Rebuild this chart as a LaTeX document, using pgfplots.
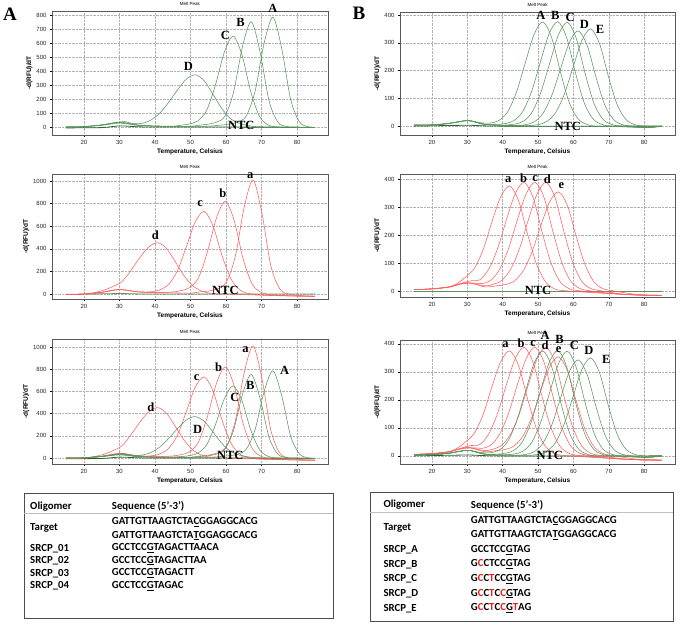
\documentclass[border=0pt]{standalone}
\usepackage{pgfplots}
\pgfplotsset{compat=1.18}
\usepackage{pgfplotstable}
\usepackage{fontspec}
\setmainfont{Liberation Serif}
\newfontfamily\arial{Liberation Sans}
\newfontfamily\calib{Carlito}

\definecolor{gcurve}{RGB}{88,150,90}
\definecolor{rcurve}{RGB}{255,95,95}
\definecolor{ntc}{RGB}{40,100,45}
\definecolor{tred}{RGB}{235,30,30}

\pgfplotsset{
 melt/.style={scale only axis, anchor=south west, width=276pt,
  xmin=11, xmax=88.7, xtick={20,30,...,80}, grid=major,
  major grid style={densely dotted, gray!60},
  axis line style={gray!70!black, line width=0.6pt},
  tick style={black, line width=0.4pt}, tick align=outside, tick pos=left,
  minor x tick num=4, minor tick length=1.2pt, major tick length=2pt,
  ticklabel style={font=\arial\fontsize{6}{7}\selectfont, text=black!85},
  /pgf/number format/assume math mode=true, /pgf/number format/1000 sep={},
  xlabel={Temperature, Celsius}, ylabel={-d(RFU)/dT},
  label style={font=\arial\bfseries\fontsize{6.5}{7}\selectfont},
  xlabel style={yshift=3pt}, ylabel style={yshift=-3pt},
  title={Melt Peak}, title style={font=\arial\fontsize{4.5}{5}\selectfont, yshift=-4pt},
  clip=false},
 gcur/.style={gcurve, line width=0.55pt, smooth},
 rcur/.style={rcurve, line width=0.55pt, smooth},
 ncur/.style={ntc, line width=0.8pt, smooth}
}
\tikzset{lab/.style={font=\bfseries\fontsize{12.5}{13}\selectfont, inner sep=0pt}}

% ---------- Panel A (green) ----------
\pgfplotstableread{
x y
15 0
20 3
25 12
30 28
35 12
40 6
45 5
50 5
55 6
58.2 13
60.7 20
63.2 34
65.7 79
68.2 259
70.7 597
73.2 785
75.7 557
78.2 196
80.7 35
83.2 2
85 -3
}\gA
\pgfplotstableread{
x y
15 0
20 3
25 14
30 32
35 14
40 6
45 5
50 5
52.1 12
54.6 19
57.1 33
59.6 75
62.1 248
64.6 572
67.1 752
69.6 534
72.1 188
74.6 34
77.1 4
80 0
85 -2
}\gB
\pgfplotstableread{
x y
15 0
20 3
25 15
30 35
35 15
40 8
45 6
47 12
49.5 21
52 43
54.5 117
57 299
59.5 533
62 650
64.5 514
67 247
69.5 72
72 13
74.5 0
80 -3
85 -3
}\gC
\pgfplotstableread{
x y
15 0
20 3
25 15
28.8 30
31.3 39
33.8 25
36.3 26
38.8 49
41.3 98
43.8 175
46.3 264
48.8 342
51.3 373
53.8 332
56.3 235
58.8 132
61.3 59
63.8 26
66.3 10
68.8 3
75 0
85 -3
}\gD
\pgfplotstableread{
x y
15 -6
25 -4
30 8
35 2
40 0
60 0
85 -4
}\gN
% ---------- Panel a (red) ----------
\pgfplotstableread{
x y
15 -5
20 0
25 15
30 40
35 20
40 12
45 10
50 8
52.6 18
55.1 27
57.6 46
60.1 106
62.6 333
65.1 767
67.6 1009
70.1 716
72.6 252
75.1 45
77.6 0
80 -12
85 -20
}\ra
\pgfplotstableread{
x y
15 -5
20 0
25 15
30 40
35 20
40 12
44.8 18
47.3 30
49.8 57
52.3 148
54.8 378
57.3 673
59.8 821
62.3 649
64.8 312
67.3 90
69.8 16
72.3 -5
77 -15
85 -20
}\rb
\pgfplotstableread{
x y
15 -5
20 0
25 15
30 40
35 20
38.8 19
41.3 36
43.8 85
46.3 205
48.8 417
51.3 636
53.8 731
56.3 607
58.8 347
61.3 139
63.8 37
66.3 5
70 -8
77 -15
85 -20
}\rc
\pgfplotstableread{
x y
15 -5
18.2 -3
20.7 2
23.2 14
25.7 35
28.2 67
30.7 110
33.2 208
35.7 321
38.2 416
40.7 454
43.2 405
45.7 286
48.2 160
50.7 71
53.2 25
55.7 7
58.2 1
65 -5
75 -15
85 -20
}\rd
\pgfplotstableread{
x y
15 -3
30 4
40 0
85 0
}\rN
% ---------- Panel B (green) ----------
\pgfplotstableread{
x y
15 5
20 5
25 10
30 20
33.9 12
36.4 11
38.9 20
41.4 51
43.9 122
46.4 228
48.9 331
51.4 375
53.9 317
56.4 191
58.9 82
61.4 25
63.9 6
66.4 0
75 0
80 -5
85 0
}\hA
\pgfplotstableread{
x y
15 3
20 4
25 10
30 20
33 12
35 6
38.1 6
40.6 9
43.1 19
45.6 51
48.1 122
50.6 228
53.1 332
55.6 376
58.1 318
60.6 191
63.1 82
65.6 25
68.1 6
70.6 0
80 -5
85 0
}\hB
\pgfplotstableread{
x y
15 3
20 4
25 10
30 20
33 12
35 6
38 3
40.8 4
43.3 7
45.8 17
48.3 50
50.8 122
53.3 227
55.8 330
58.3 374
60.8 316
63.3 190
65.8 82
68.3 25
70.8 6
73.3 0
80 -5
85 0
}\hC
\pgfplotstableread{
x y
15 3
20 4
25 10
30 20
33 12
35 6
40 3
43.9 2
46.4 5
48.9 15
51.4 46
53.9 111
56.4 208
58.9 303
61.4 343
63.9 290
66.4 175
68.9 75
71.4 23
73.9 5
76.4 0
80 -5
85 0
}\hD
\pgfplotstableread{
x y
15 3
20 4
25 10
30 20
33 12
35 6
40 3
45 2
47.4 2
49.9 5
52.4 16
54.9 47
57.4 114
59.9 212
62.4 309
64.9 350
67.4 296
69.9 178
72.4 76
74.9 23
77.4 5
79.9 0
82 -5
85 0
}\hE
\pgfplotstableread{
x y
15 0
30 3
40 0
85 0
}\hN
% ---------- Panel b (red) ----------
\pgfplotstableread{
x y
15 5
20 8
24.5 14
27 26
29.5 50
32 81
34.5 148
37 248
39.5 338
42 375
44.5 323
47 206
49.5 99
52 35
54.5 9
57 2
65 -5
75 -12
85 -15
}\sa
\pgfplotstableread{
x y
15 5
20 8
25 15
28.6 29
31.1 37
33.6 41
36.1 79
38.6 153
41.1 256
43.6 349
46.1 388
48.6 334
51.1 213
53.6 103
56.1 36
58.6 10
61.1 2
70 -8
80 -15
85 -15
}\sb
\pgfplotstableread{
x y
15 5
20 8
25 15
28 25
31.7 29
34.2 27
36.7 39
39.2 79
41.7 153
44.2 256
46.7 349
49.2 388
51.7 334
54.2 213
56.7 103
59.2 36
61.7 10
64.2 2
72 -10
80 -15
85 -15
}\sc
\pgfplotstableread{
x y
15 5
20 8
25 15
30 30
34.8 19
37.3 24
39.8 39
42.3 79
44.8 153
47.3 256
49.8 349
52.3 388
54.8 334
57.3 213
59.8 103
62.3 36
64.8 10
67.3 2
75 -12
85 -15
}\sd
\pgfplotstableread{
x y
15 5
20 8
25 15
30 30
35 15
38.3 19
40.8 23
43.3 36
45.8 72
48.3 140
50.8 234
53.3 319
55.8 354
58.3 305
60.8 195
63.3 94
65.8 33
68.3 9
70.8 2
78 -12
85 -15
}\se
\pgfplotstableread{
x y
15 0
85 0
}\sN

\begin{document}
\begin{tikzpicture}
\path[use as bounding box] (0,0) rectangle (685pt,-624pt);

% ===== Top left =====
\begin{axis}[melt, at={(52pt,-135pt)}, height=124pt, ymin=-57, ymax=829, ytick={0,100,...,800}]
\addplot[ncur] table {\gN};
\addplot[gcur] table {\gD};
\addplot[gcur] table {\gC};
\addplot[gcur] table {\gB};
\addplot[gcur] table {\gA};
\node[lab] at (axis cs:73.2,845) {A};
\node[lab] at (axis cs:64.1,746) {B};
\node[lab] at (axis cs:59.8,651) {C};
\node[lab] at (axis cs:49.4,432) {D};
\node[lab] at (axis cs:64.3,10) {NTC};
\end{axis}

% ===== Top right =====
\begin{axis}[melt, at={(400pt,-135pt)}, width=275pt, height=123pt, ymin=-32, ymax=411, ytick={0,100,...,400}]
\addplot[ncur] table {\hN};
\addplot[gcur] table {\hA};
\addplot[gcur] table {\hB};
\addplot[gcur] table {\hC};
\addplot[gcur] table {\hD};
\addplot[gcur] table {\hE};
\node[lab] at (axis cs:50.8,400) {A};
\node[lab] at (axis cs:54.9,400) {B};
\node[lab] at (axis cs:59.1,392) {C};
\node[lab] at (axis cs:63.1,368) {D};
\node[lab] at (axis cs:67.5,348) {E};
\node[lab] at (axis cs:58.4,0) {NTC};
\end{axis}

% ===== Middle left =====
\begin{axis}[melt, at={(52pt,-299pt)}, height=125pt, ymin=-44, ymax=1062, ytick={0,200,...,1000}]
\addplot[ncur, gcurve!80!gray] table {\rN};
\addplot[rcur] table {\rd};
\addplot[rcur] table {\rc};
\addplot[rcur] table {\rb};
\addplot[rcur] table {\ra};
\node[lab] at (axis cs:66.8,1045) {a};
\node[lab] at (axis cs:59.1,893) {b};
\node[lab] at (axis cs:52.7,799) {c};
\node[lab] at (axis cs:40.1,524) {d};
\node[lab] at (axis cs:59.8,30) {NTC};
\end{axis}

% ===== Middle right =====
\begin{axis}[melt, at={(400pt,-297pt)}, width=275pt, height=123pt, ymin=-21, ymax=418, ytick={0,100,...,400}]
\addplot[ncur, gcurve!80!gray] table {\sN};
\addplot[rcur] table {\sa};
\addplot[rcur] table {\sb};
\addplot[rcur] table {\sc};
\addplot[rcur] table {\sd};
\addplot[rcur] table {\se};
\node[lab] at (axis cs:41.6,398) {a};
\node[lab] at (axis cs:45.9,404) {b};
\node[lab] at (axis cs:49.2,400) {c};
\node[lab] at (axis cs:52.6,398) {d};
\node[lab] at (axis cs:56.6,376) {e};
\node[lab] at (axis cs:50,2) {NTC};
\end{axis}

% ===== Bottom left =====
\begin{axis}[melt, at={(52pt,-464pt)}, height=125pt, ymin=-54, ymax=1072, ytick={0,200,...,1000}]
\addplot[ncur] table {\gN};
\addplot[rcur] table {\rd};
\addplot[rcur] table {\rc};
\addplot[rcur] table {\rb};
\addplot[rcur] table {\ra};
\addplot[gcur] table {\gD};
\addplot[gcur] table {\gC};
\addplot[gcur] table {\gB};
\addplot[gcur] table {\gA};
\node[lab] at (axis cs:65.5,976) {a};
\node[lab] at (axis cs:57.9,815) {b};
\node[lab] at (axis cs:51.7,725) {c};
\node[lab] at (axis cs:38.8,457) {d};
\node[lab] at (axis cs:76.5,791) {A};
\node[lab] at (axis cs:66.8,657) {B};
\node[lab] at (axis cs:62.5,543) {C};
\node[lab] at (axis cs:52,260) {D};
\node[lab] at (axis cs:61.2,21) {NTC};
\end{axis}

% ===== Bottom right =====
\begin{axis}[melt, at={(400pt,-464pt)}, width=275pt, height=124pt, ymin=-29, ymax=414, ytick={0,100,...,400}]
\addplot[ncur] table {\hN};
\addplot[rcur] table {\sa};
\addplot[rcur] table {\sb};
\addplot[rcur] table {\sc};
\addplot[rcur] table {\sd};
\addplot[rcur] table {\se};
\addplot[gcur] table {\hA};
\addplot[gcur] table {\hB};
\addplot[gcur] table {\hC};
\addplot[gcur] table {\hD};
\addplot[gcur] table {\hE};
\node[lab] at (axis cs:40.8,396) {a};
\node[lab] at (axis cs:45.2,402) {b};
\node[lab] at (axis cs:48.6,402) {c};
\node[lab] at (axis cs:52.0,396) {d};
\node[lab] at (axis cs:55.8,381) {e};
\node[lab] at (axis cs:52,429) {A};
\node[lab] at (axis cs:56.1,417) {B};
\node[lab] at (axis cs:60.3,396) {C};
\node[lab] at (axis cs:64.4,378) {D};
\node[lab] at (axis cs:69.3,343) {E};
\node[lab] at (axis cs:53.3,2) {NTC};
\end{axis}

% ===== Panel letters =====
\node[font=\bfseries\fontsize{19}{19}\selectfont, inner sep=0pt] at (10pt,-14pt) {A};
\node[font=\bfseries\fontsize{19}{19}\selectfont, inner sep=0pt] at (359pt,-13pt) {B};

% ===== Left table =====
\draw[black!70, line width=0.7pt] (24pt,-493pt) rectangle (333pt,-618pt);
\draw[black!25, line width=0.6pt] (24pt,-513.5pt) -- (333pt,-513.5pt);
\begin{scope}[every node/.style={anchor=west, inner sep=0pt, font=\calib\bfseries\fontsize{10.8}{11}\selectfont}]
\node at (30pt,-506.7pt) {Oligomer};
\node at (111.7pt,-506.7pt) {Sequence (5’-3’)};
\node at (30pt,-528.3pt) {Target};
\node at (111.7pt,-522.3pt) {GATTGTTAAGTCTA\underline{C}GGAGGCACG};
\node at (111.7pt,-535.7pt) {GATTGTTAAGTCTA\underline{T}GGAGGCACG};
\node at (30pt,-548.3pt) {SRCP\_01};
\node at (111.7pt,-548.3pt) {GCCTCC\underline{G}TAGACTTAACA};
\node at (30pt,-560.7pt) {SRCP\_02};
\node at (111.7pt,-560.7pt) {GCCTCC\underline{G}TAGACTTAA};
\node at (30pt,-573.3pt) {SRCP\_03};
\node at (111.7pt,-573.3pt) {GCCTCC\underline{G}TAGACTT};
\node at (30pt,-586pt) {SRCP\_04};
\node at (111.7pt,-586pt) {GCCTCC\underline{G}TAGAC};
\end{scope}

% ===== Right table =====
\draw[black!70, line width=0.7pt] (370pt,-492pt) rectangle (673pt,-621.5pt);
\draw[black!25, line width=0.6pt] (370pt,-512.7pt) -- (673pt,-512.7pt);
\begin{scope}[every node/.style={anchor=west, inner sep=0pt, font=\calib\bfseries\fontsize{10.8}{11}\selectfont}]
\node at (383.3pt,-505pt) {Oligomer};
\node at (470.7pt,-505pt) {Sequence (5’-3’)};
\node at (383.3pt,-527.7pt) {Target};
\node at (470.7pt,-520.7pt) {GATTGTTAAGTCTA\underline{C}GGAGGCACG};
\node at (470.7pt,-535pt) {GATTGTTAAGTCTA\underline{T}GGAGGCACG};
\node at (383.3pt,-550pt) {SRCP\_A};
\node at (470.7pt,-550pt) {GCCTCC\underline{G}TAG};
\node at (383.3pt,-564.3pt) {SRCP\_B};
\node at (470.7pt,-564.3pt) {G\textcolor{tred}{C}CTCC\underline{G}TAG};
\node at (383.3pt,-579pt) {SRCP\_C};
\node at (470.7pt,-579pt) {G\textcolor{tred}{C}C\textcolor{tred}{T}CC\underline{G}TAG};
\node at (383.3pt,-593.7pt) {SRCP\_D};
\node at (470.7pt,-593.7pt) {G\textcolor{tred}{C}C\textcolor{tred}{T}C\textcolor{tred}{C}\underline{G}TAG};
\node at (383.3pt,-608.3pt) {SRCP\_E};
\node at (470.7pt,-608.3pt) {G\textcolor{tred}{C}C\textcolor{tred}{T}C\textcolor{tred}{C}\underline{G}\textcolor{tred}{T}AG};
\end{scope}
\end{tikzpicture}
\end{document}
